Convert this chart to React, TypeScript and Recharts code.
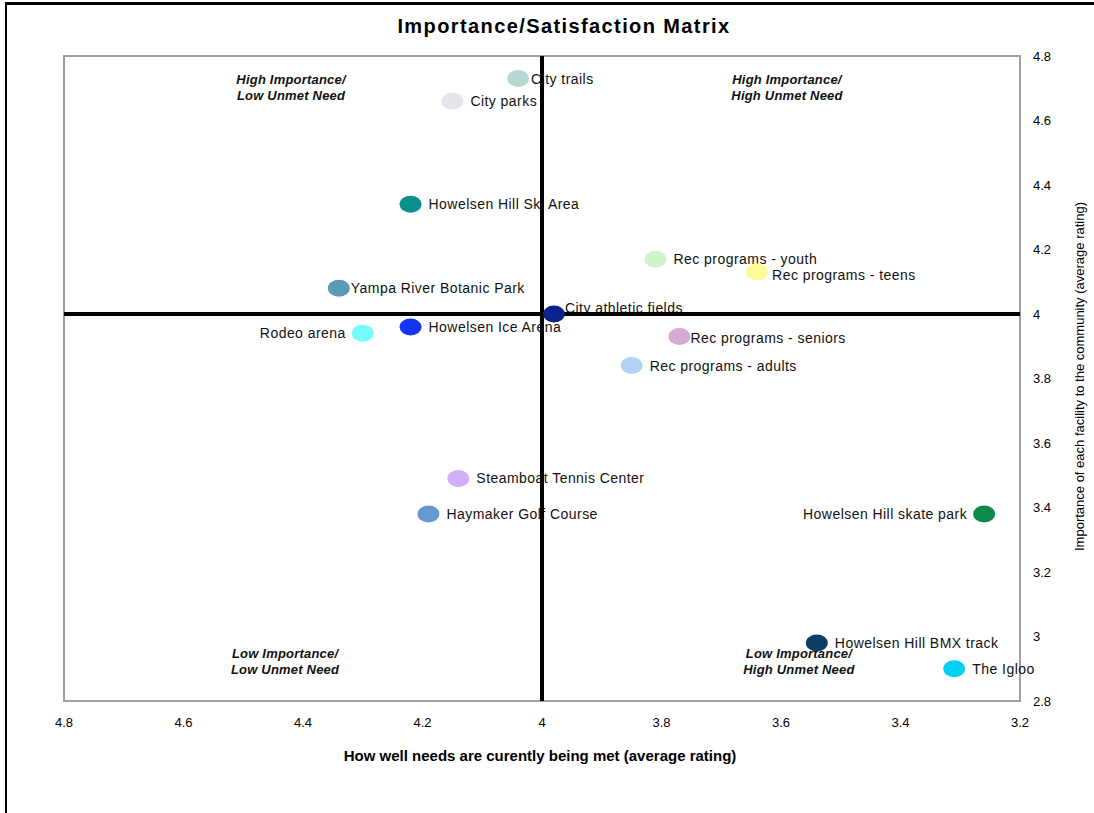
import React from 'react';
import { ScatterChart, Scatter, XAxis, YAxis, ReferenceLine, ReferenceArea, ReferenceDot } from 'recharts';

const facilities = [
  'City trails',
  'City parks',
  'Howelsen Hill Ski Area',
  'Rec programs - youth',
  'Rec programs - teens',
  'Yampa River Botanic Park',
  'City athletic fields',
  'Rodeo arena',
  'Howelsen Ice Arena',
  'Rec programs - seniors',
  'Rec programs - adults',
  'Steamboat Tennis Center',
  'Haymaker Golf Course',
  'Howelsen Hill skate park',
  'Howelsen Hill BMX track',
  'The Igloo',
];
const needsMet = [4.04, 4.15, 4.22, 3.81, 3.64, 4.34, 3.98, 4.3, 4.22, 3.77, 3.85, 4.14, 4.19, 3.26, 3.54, 3.31];
const importance = [4.73, 4.66, 4.34, 4.17, 4.13, 4.08, 4.0, 3.94, 3.96, 3.93, 3.84, 3.49, 3.38, 3.38, 2.98, 2.9];
const dotColors = [
  '#b7d7d5', '#e3e5ea', '#0b8f8a', '#ccf5cc', '#fffa99', '#5a9ab8', '#0a2289', '#74fbfb',
  '#1634f8', '#d6a8d4', '#b1d2f2', '#d4aef8', '#6699d4', '#0c8a47', '#0b3d66', '#00d0f8',
];
const xTicks = [3.2, 3.4, 3.6, 3.8, 4, 4.2, 4.4, 4.6, 4.8];
const yTicks = [2.8, 3, 3.2, 3.4, 3.6, 3.8, 4, 4.2, 4.4, 4.6, 4.8];

const quadrantNotes = [
  { x: 4.42, y: 4.7, lines: ['High Importance/', 'Low Unmet Need'] },
  { x: 3.59, y: 4.7, lines: ['High Importance/', 'High Unmet Need'] },
  { x: 4.43, y: 2.92, lines: ['Low Importance/', 'Low Unmet Need'] },
  { x: 3.57, y: 2.92, lines: ['Low Importance/', 'High Unmet Need'] },
];

// these two carry their names on the left of the dot
const labelsOnLeft = ['Rodeo arena', 'Howelsen Hill skate park'];
// labels nudged closer to their dot so they don't collide
const tightLabels: Record<string, [number, number]> = {
  'City trails': [13, 0],
  'Yampa River Botanic Park': [12, 0],
  'City athletic fields': [11, -6],
  'Rec programs - seniors': [11, 1],
  'Rec programs - teens': [15, 3],
};

const points = facilities.map((name, i) => ({
  name,
  met: needsMet[i],
  importance: importance[i],
  color: dotColors[i],
}));

const FONT = '"Liberation Sans", Arial, sans-serif';

const Dot = (props: any) => (
  <ellipse cx={props.cx} cy={props.cy} rx={11} ry={8.5} fill={props.payload.color} />
);

const NameTag = (props: any) => {
  const name = props.payload.name;
  const left = labelsOnLeft.includes(name);
  const [dx, dy] = tightLabels[name] ?? [18, 0];
  return (
    <text
      x={props.cx + (left ? -17 : dx)}
      y={props.cy + dy + 5}
      textAnchor={left ? 'end' : 'start'}
      fontSize={14}
      letterSpacing={0.45}
      fontFamily={FONT}
      fill="#111"
    >
      {name}
    </text>
  );
};

const Note = (lines: string[]) => (props: any) => (
  <text textAnchor="middle" fontSize={13} letterSpacing={0.2} fontWeight="bold" fontStyle="italic" fontFamily={FONT} fill="#111">
    <tspan x={props.cx} y={props.cy - 4}>{lines[0]}</tspan>
    <tspan x={props.cx} y={props.cy + 12}>{lines[1]}</tspan>
  </text>
);

export default function App() {
  return (
    <div style={{ position: 'absolute', left: 0, top: 0, width: 1094, height: 813, background: '#fff' }}>
      <div style={{ position: 'absolute', left: 5, top: 2, right: 0, bottom: 0, borderTop: '3px solid #000', borderLeft: '2px solid #000' }} />
      <div
        style={{
          position: 'absolute', left: 314, top: 15, width: 500, textAlign: 'center',
          fontFamily: FONT, fontWeight: 'bold', fontSize: 20, letterSpacing: 1.4, color: '#000',
        }}
      >
        Importance/Satisfaction Matrix
      </div>
      <div style={{ position: 'absolute', left: 0, top: 0 }}>
        <ScatterChart width={1094} height={813} margin={{ top: 56, left: 64, right: 0, bottom: 0 }}>
          <XAxis
            type="number"
            dataKey="met"
            domain={[3.2, 4.8]}
            ticks={xTicks}
            reversed
            height={112}
            axisLine={false}
            tickLine={false}
            tickSize={0}
            tickMargin={17}
            tick={{ fontSize: 13, fill: '#000', fontFamily: FONT }}
            label={{
              content: (p: any) => (
                <text x={540} y={p.viewBox.y + 60} textAnchor="middle" fontSize={15} fontWeight="bold" fontFamily={FONT} fill="#000">
                  How well needs are curently being met  (average rating)
                </text>
              ),
            }}
          />
          <YAxis
            type="number"
            dataKey="importance"
            orientation="right"
            domain={[2.8, 4.8]}
            ticks={yTicks}
            width={74}
            axisLine={false}
            tickLine={false}
            tickSize={0}
            tickMargin={13}
            tick={{ fontSize: 13, fill: '#000', fontFamily: FONT }}
            label={{
              content: (p: any) => {
                const cx = p.viewBox.x + 61;
                const cy = p.viewBox.y + p.viewBox.height / 2 - 2;
                return (
                  <text x={cx} y={cy} transform={`rotate(-90 ${cx} ${cy})`} textAnchor="middle" dominantBaseline="middle" fontSize={13} fontFamily={FONT} fill="#000">
                    Importance of each facility to the community (average rating)
                  </text>
                );
              },
            }}
          />
          <ReferenceArea x1={3.2} x2={4.8} y1={2.8} y2={4.8} fill="none" stroke="#a0a0a0" strokeWidth={2} />
          <Scatter data={points} shape={NameTag} isAnimationActive={false} zIndex={100} />
          <ReferenceLine x={4} stroke="#000" strokeWidth={4} />
          <ReferenceLine y={4} stroke="#000" strokeWidth={4} />
          {quadrantNotes.map((n) => (
            <ReferenceDot key={n.lines.join()} x={n.x} y={n.y} r={0} shape={Note(n.lines)} />
          ))}
          <Scatter data={points} shape={Dot} isAnimationActive={false} />
        </ScatterChart>
      </div>
    </div>
  );
}
